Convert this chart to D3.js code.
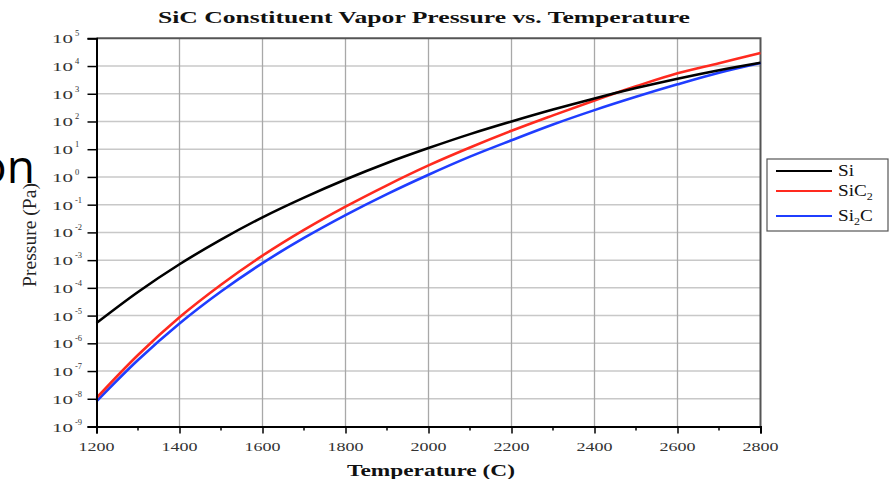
<!DOCTYPE html>
<html><head><meta charset="utf-8">
<script src="https://cdn.jsdelivr.net/npm/d3@7"></script>
<style>html,body{margin:0;padding:0;background:#fff;}svg{display:block;}</style>
</head><body>
<script>
const temperatures = [1200,1300,1400,1500,1600,1700,1800,1900,2000,2100,2200,2300,2400,2500,2600,2700,2800];
const pressureSi   = [5.4e-6,7.1e-5,7.1e-4,5.5e-3,3.5e-2,0.18,0.81,3.2,11,35,100,270,680,1600,3500,7100,13200];
const pressureSiC2 = [1.07e-8,3.8e-7,8.7e-6,1.3e-4,1.45e-3,1.23e-2,8.5e-2,0.5,2.6,11.5,46,166,575,1860,5500,12600,29500];
const pressureSi2C = [8.1e-9,2.5e-7,5.2e-6,7.4e-5,7.8e-4,6.3e-3,4.2e-2,0.24,1.2,5.4,21,78,257,776,2190,5750,12900];
const seriesNames = ["Si","SiC2","Si2C"];
const xTickValues = [1200,1400,1600,1800,2000,2200,2400,2600,2800];
const xMinorTicks = [1300,1500,1700,1900,2100,2300,2500,2700];
const yExponents = [5,4,3,2,1,0,-1,-2,-3,-4,-5,-6,-7,-8,-9];

const W = 892, H = 479;
const svg = d3.select("body").append("svg").attr("width", W).attr("height", H);
const serif = "'Liberation Serif','Times New Roman',serif";

// slide fragment text on the left
svg.append("text").attr("x", 35).attr("y", 183).attr("text-anchor","end")
  .attr("font-family","'Open Sans','Liberation Sans',sans-serif").attr("font-size",46)
  .attr("fill","#000").text("on");

const x = d3.scaleLinear().domain([1200,2800]).range([96.5,760.5]);
const y = d3.scaleLog().domain([1e-9,1e5]).range([426.5,38.3]);

// plot background
svg.append("rect").attr("x",x(1200)).attr("y",y(1e5)).attr("width",x(2800)-x(1200))
  .attr("height",y(1e-9)-y(1e5)).attr("fill","#fff");

// horizontal grid
svg.append("g").selectAll("line").data(yExponents.filter(e=>e>-9&&e<5)).join("line")
  .attr("x1",x(1200)).attr("x2",x(2800))
  .attr("y1",e=>y(Math.pow(10,e))).attr("y2",e=>y(Math.pow(10,e)))
  .attr("stroke","#c8c8c8").attr("stroke-width",1.5);
// vertical grid
svg.append("g").selectAll("line").data(xTickValues.filter(t=>t>1200&&t<2800)).join("line")
  .attr("x1",d=>x(d)).attr("x2",d=>x(d))
  .attr("y1",y(1e5)).attr("y2",y(1e-9))
  .attr("stroke","#a8a8a8").attr("stroke-width",1.3);

// top and right border
svg.append("path")
  .attr("d",`M${x(1200)},${y(1e5)}H${x(2800)}V${y(1e-9)}`)
  .attr("fill","none").attr("stroke","#555").attr("stroke-width",2);

// series
const series = [
  {name:"Si2C", vals:pressureSi2C, color:"#1f3dff"},
  {name:"SiC2", vals:pressureSiC2, color:"#ff2a1f"},
  {name:"Si",   vals:pressureSi,   color:"#000000"}
];
const line = d3.line().x(d=>x(d[0])).y(d=>y(d[1])).curve(d3.curveCatmullRom.alpha(0.5));
svg.append("g").selectAll("path").data(series).join("path")
  .attr("d",s=>line(temperatures.map((t,i)=>[t,s.vals[i]])))
  .attr("fill","none").attr("stroke",s=>s.color).attr("stroke-width",2.6)
  .attr("stroke-linejoin","round");

// x axis
const xAxis = d3.axisBottom(x).tickValues(xTickValues).tickSize(7).tickFormat("");
const gx = svg.append("g").attr("transform",`translate(0,${y(1e-9)})`).call(xAxis);
gx.select(".domain").attr("stroke","#000").attr("stroke-width",2);
gx.selectAll(".tick line").attr("stroke","#000").attr("stroke-width",1.5);
gx.append("g").selectAll("line").data(xMinorTicks).join("line")
  .attr("x1",d=>x(d)).attr("x2",d=>x(d)).attr("y1",0).attr("y2",4)
  .attr("stroke","#000").attr("stroke-width",1.5);
svg.append("g").selectAll("text").data(xTickValues).join("text")
  .attr("x",d=>x(d)).attr("y",451).attr("text-anchor","middle")
  .attr("font-family",serif).attr("font-size",13).attr("fill","#333")
  .attr("textLength",36).attr("lengthAdjust","spacingAndGlyphs")
  .text(d=>d);

// y axis
const yAxis = d3.axisLeft(y).tickValues(yExponents.map(e=>Math.pow(10,e))).tickSize(9).tickFormat("");
const gy = svg.append("g").attr("transform",`translate(${x(1200)},0)`).call(yAxis);
gy.select(".domain").attr("stroke","#000").attr("stroke-width",2);
gy.selectAll(".tick line").attr("stroke","#000").attr("stroke-width",1.5);
const yl = svg.append("g").selectAll("g").data(yExponents).join("g")
  .attr("transform",e=>`translate(52,${y(Math.pow(10,e))+5})`);
yl.append("text").attr("x",0).attr("y",0)
  .attr("font-family",serif).attr("font-size",13).attr("fill","#333")
  .attr("textLength",21).attr("lengthAdjust","spacingAndGlyphs").text("10");
yl.append("text").attr("x",23).attr("y",-7)
  .attr("font-family",serif).attr("font-size",8.5).attr("fill","#333")
  .text(e=>String(e));

// titles
svg.append("text").attr("x",424).attr("y",23).attr("text-anchor","middle")
  .attr("font-family",serif).attr("font-weight","bold").attr("font-size",16).attr("fill","#111")
  .attr("textLength",532).attr("lengthAdjust","spacingAndGlyphs")
  .text("SiC Constituent Vapor Pressure vs. Temperature");
svg.append("text").attr("x",431).attr("y",476).attr("text-anchor","middle")
  .attr("font-family",serif).attr("font-weight","bold").attr("font-size",16).attr("fill","#111")
  .attr("textLength",168).attr("lengthAdjust","spacingAndGlyphs")
  .text("Temperature (C)");
svg.append("text").attr("transform","translate(36,235) rotate(-90)").attr("text-anchor","middle")
  .attr("font-family",serif).attr("font-size",18).attr("fill","#222")
  .attr("textLength",104).attr("lengthAdjust","spacingAndGlyphs")
  .text("Pressure (Pa)");

// legend
const lg = svg.append("g").attr("transform","translate(767,159)");
lg.append("rect").attr("x",0).attr("y",0).attr("width",121).attr("height",72)
  .attr("fill","#fff").attr("stroke","#555").attr("stroke-width",1.2);
const legendItems = [
  {label:["Si"], color:"#000000", yy:12},
  {label:["SiC","2"], color:"#ff2a1f", yy:32},
  {label:["Si","2","C"], color:"#1f3dff", yy:57}
];
const li = lg.selectAll("g.item").data(legendItems).join("g").attr("class","item");
li.append("line").attr("x1",9).attr("x2",65).attr("y1",d=>d.yy).attr("y2",d=>d.yy)
  .attr("stroke",d=>d.color).attr("stroke-width",2.2);
li.each(function(d){
  const t = d3.select(this).append("text")
    .attr("transform",`translate(71,${d.yy+5}) scale(1.2,1)`)
    .attr("font-family",serif).attr("font-size",16).attr("fill","#111");
  d.label.forEach((s,i)=>{
    if(i===1){ t.append("tspan").attr("font-size",10).attr("dy",4).text(s); }
    else if(i===2){ t.append("tspan").attr("dy",-4).text(s); }
    else { t.append("tspan").text(s); }
  });
});
</script>
</body></html>
